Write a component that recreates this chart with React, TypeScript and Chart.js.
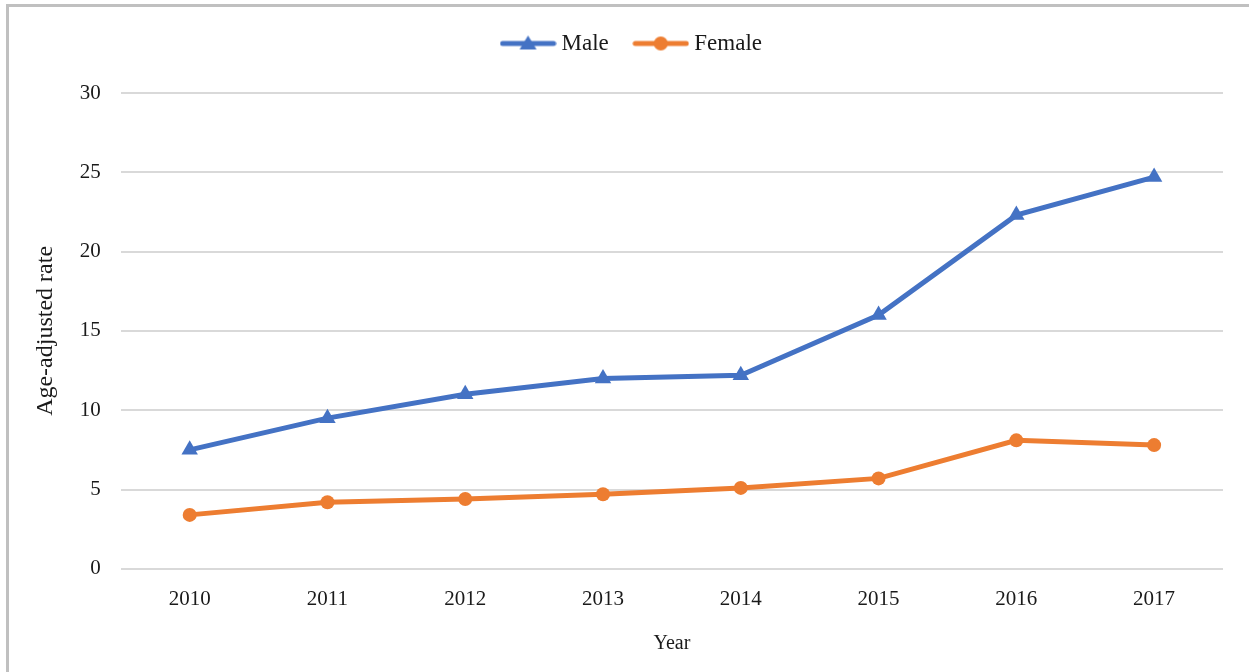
import React, { useEffect, useRef } from "react";
import { Chart, registerables } from "chart.js";

Chart.register(...registerables);

const years = ["2010", "2011", "2012", "2013", "2014", "2015", "2016", "2017"];
const maleRates = [7.5, 9.5, 11.0, 12.0, 12.2, 16.0, 22.3, 24.7];
const femaleRates = [3.4, 4.2, 4.4, 4.7, 5.1, 5.7, 8.1, 7.8];
const yTicks = [0, 5, 10, 15, 20, 25, 30];

const BLUE = "#4472C4";
const ORANGE = "#ED7D31";
const TEXT = "#1a1a1a";
const FONT = "'Liberation Serif', 'Times New Roman', serif";

function legendIcon(color: string, shape: "triangle" | "circle"): HTMLCanvasElement {
  const c = document.createElement("canvas");
  c.width = 57;
  c.height = 18;
  const ctx = c.getContext("2d")!;
  ctx.strokeStyle = color;
  ctx.lineWidth = 5;
  ctx.lineCap = "round";
  ctx.beginPath();
  ctx.moveTo(3, 9);
  ctx.lineTo(54, 9);
  ctx.stroke();
  ctx.fillStyle = color;
  ctx.beginPath();
  if (shape === "circle") {
    ctx.arc(28.5, 9, 7, 0, Math.PI * 2);
  } else {
    ctx.moveTo(28.5, 1);
    ctx.lineTo(37, 15);
    ctx.lineTo(20, 15);
    ctx.closePath();
  }
  ctx.fill();
  return c;
}

export default function App() {
  const ref = useRef<HTMLCanvasElement | null>(null);

  useEffect(() => {
    document.body.style.margin = "0";
    if (!ref.current) return;
    const icons = [legendIcon(BLUE, "triangle"), legendIcon(ORANGE, "circle")];
    const legendSpacer = {
      id: "legendSpacer",
      beforeInit(chart: any) {
        const orig = chart.legend.fit;
        chart.legend.fit = function () {
          orig.call(this);
          this.height += 28;
        };
      },
      afterLayout(chart: any) {
        chart.legend.left += 7;
        chart.legend.right += 7;
      },
    };
    const chart = new Chart(ref.current, {
      type: "line",
      data: {
        labels: years,
        datasets: [
          {
            label: "Male",
            data: maleRates,
            borderColor: BLUE,
            backgroundColor: BLUE,
            borderWidth: 5,
            pointStyle: "triangle",
            pointRadius: 9.5,
            pointBorderWidth: 0,
            tension: 0,
          },
          {
            label: "Female",
            data: femaleRates,
            borderColor: ORANGE,
            backgroundColor: ORANGE,
            borderWidth: 5,
            pointStyle: "circle",
            pointRadius: 7,
            pointBorderWidth: 0,
            tension: 0,
          },
        ],
      },
      options: {
        responsive: false,
        animation: false,
        layout: { padding: { left: 31, right: 26, top: 2, bottom: 16 } },
        plugins: {
          legend: {
            position: "top",
            labels: {
              usePointStyle: true,
              pointStyleWidth: 44,
              padding: 30,
              color: TEXT,
              font: { family: FONT, size: 23 },
              generateLabels: (ch: any) =>
                ch.data.datasets.map((ds: any, i: number) => ({
                  text: ds.label,
                  pointStyle: icons[i],
                  fillStyle: ds.borderColor,
                  strokeStyle: ds.borderColor,
                  lineWidth: 0,
                  hidden: false,
                  datasetIndex: i,
                  fontColor: TEXT,
                })),
            },
          },
          tooltip: { enabled: false },
        },
        scales: {
          x: {
            offset: true,
            grid: { display: false },
            border: { display: false },
            ticks: { color: TEXT, font: { family: FONT, size: 21 }, padding: 10 },
            title: {
              display: true,
              text: "Year",
              color: TEXT,
              font: { family: FONT, size: 20 },
              padding: { top: 10, bottom: 0 },
            },
          },
          y: {
            min: 0,
            max: 30,
            afterBuildTicks: (axis: any) => {
              axis.ticks = yTicks.map((v) => ({ value: v }));
            },
            grid: { color: "#d9d9d9", lineWidth: 2, drawTicks: false },
            border: { display: false },
            ticks: { color: TEXT, font: { family: FONT, size: 21 }, padding: 20 },
            title: {
              display: true,
              text: "Age-adjusted rate",
              color: TEXT,
              font: { family: FONT, size: 24 },
              padding: { top: 0, bottom: 0 },
            },
          },
        },
      },
      plugins: [legendSpacer],
    });
    return () => chart.destroy();
  }, []);

  return (
    <div
      style={{
        position: "fixed",
        left: 0,
        top: 0,
        width: 1249,
        height: 672,
        overflow: "hidden",
        background: "#fff",
      }}
    >
      <div
        style={{
          position: "absolute",
          left: 6,
          top: 4,
          width: 1400,
          height: 800,
          borderLeft: "3px solid #c0c0c0",
          borderTop: "3px solid #c0c0c0",
        }}
      />
      <canvas
        ref={ref}
        width={1249}
        height={672}
        style={{ position: "absolute", left: 0, top: 0, width: 1249, height: 672 }}
      />
    </div>
  );
}
